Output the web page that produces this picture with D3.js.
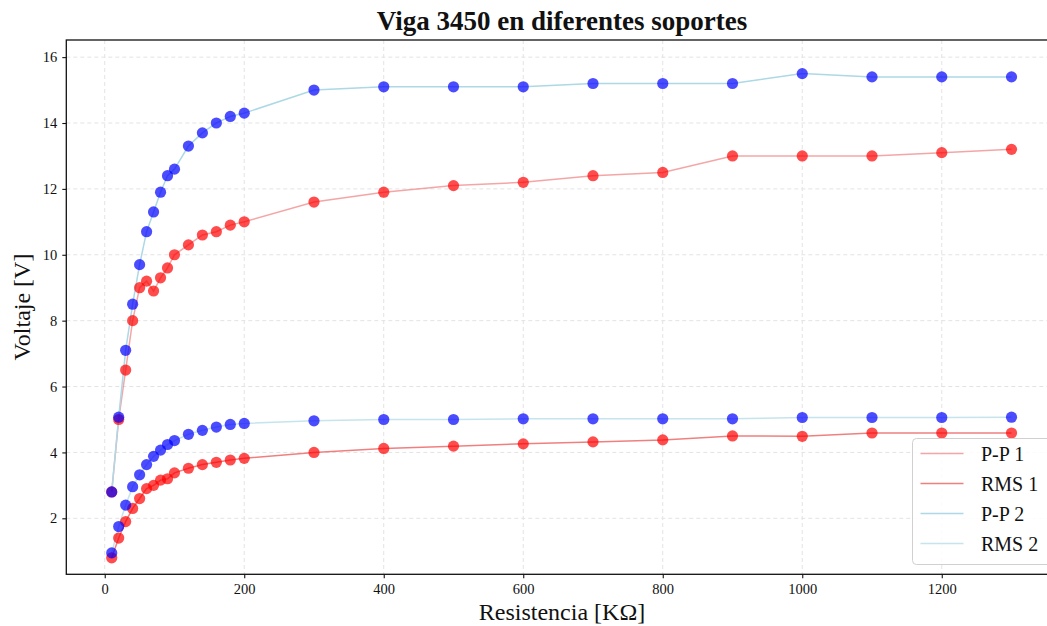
<!DOCTYPE html>
<html>
<head>
<meta charset="utf-8">
<script src="https://cdn.jsdelivr.net/npm/d3@7"></script>
<style>
  html, body { margin: 0; padding: 0; background: #fff; }
  svg { display: block; }
  text { font-family: "Liberation Serif", "DejaVu Serif", serif; fill: #111; }
</style>
</head>
<body>
<svg id="chart" width="1047" height="626"></svg>
<script>
// Resistance values (kΩ) shared by all four series
const resistance = [10, 20, 30, 40, 50, 60, 70, 80, 90, 100, 120, 140, 160, 180, 200,
                    300, 400, 500, 600, 700, 800, 900, 1000, 1100, 1200, 1300];

// Support 1 (red)
const pp1 = [2.8, 5.0, 6.5, 8.0, 9.0, 9.2, 8.9, 9.3, 9.6, 10.0, 10.3, 10.6, 10.7, 10.9, 11.0,
             11.6, 11.9, 12.1, 12.2, 12.4, 12.5, 13.0, 13.0, 13.0, 13.1, 13.2];
const rms1 = [0.8, 1.4, 1.9, 2.3, 2.6, 2.9, 3.0, 3.16, 3.2, 3.38, 3.52, 3.63, 3.7, 3.77, 3.82,
              4.0, 4.12, 4.19, 4.26, 4.32, 4.38, 4.5, 4.49, 4.59, 4.59, 4.59];

// Support 2 (blue)
const pp2 = [2.8, 5.07, 7.1, 8.5, 9.7, 10.7, 11.3, 11.9, 12.4, 12.6, 13.3, 13.7, 14.0, 14.2, 14.3,
             15.0, 15.1, 15.1, 15.1, 15.2, 15.2, 15.2, 15.5, 15.4, 15.4, 15.4];
const rms2 = [0.95, 1.75, 2.4, 2.96, 3.32, 3.63, 3.88, 4.07, 4.24, 4.36, 4.55, 4.67, 4.77, 4.85, 4.88,
              4.96, 5.0, 5.0, 5.02, 5.02, 5.02, 5.02, 5.06, 5.06, 5.06, 5.07];

const xTicks = [0, 200, 400, 600, 800, 1000, 1200];
const yTicks = [2, 4, 6, 8, 10, 12, 14, 16];

const seriesNames = ["P-P 1", "RMS 1", "P-P 2", "RMS 2"];

const svg = d3.select("#chart");

// Axes frame (right side runs past the visible canvas)
const frame = { left: 66.3, right: 1056.5, top: 40, bottom: 574.3 };

const x = d3.scaleLinear().domain([-55.1, 1364.5]).range([frame.left, frame.right]);
const y = d3.scaleLinear().domain([0.30, 16.52]).range([frame.bottom, frame.top]);

svg.append("rect").attr("width", 1047).attr("height", 626).attr("fill", "#fff");

// Dashed grid
const grid = svg.append("g").attr("stroke", "#e3e3e3").attr("stroke-width", 1)
  .attr("stroke-dasharray", "4,3").attr("fill", "none");
grid.selectAll(".gx").data(xTicks.concat([1400])).join("line")
  .attr("x1", d => x(d)).attr("x2", d => x(d))
  .attr("y1", frame.top).attr("y2", frame.bottom);
grid.selectAll(".gy").data(yTicks).join("line")
  .attr("x1", frame.left).attr("x2", frame.right)
  .attr("y1", d => y(d)).attr("y2", d => y(d));

// Series lines
const lineGen = d3.line().x(d => x(d[0])).y(d => y(d[1]));
const zipped = vals => resistance.map((r, i) => [r, vals[i]]);

const lineStyles = [
  { vals: pp1,  color: "#f08080", opacity: 0.7 },
  { vals: rms1, color: "#f08080", opacity: 1.0 },
  { vals: pp2,  color: "#add8e6", opacity: 1.0 },
  { vals: rms2, color: "#add8e6", opacity: 0.7 }
];

svg.append("g").selectAll("path").data(lineStyles).join("path")
  .attr("d", d => lineGen(zipped(d.vals)))
  .attr("fill", "none")
  .attr("stroke", d => d.color)
  .attr("stroke-opacity", d => d.opacity)
  .attr("stroke-width", 1.5);

// Markers: red for support 1, blue for support 2
const markerGroups = [
  { vals: pp1,  color: "#ff0000" },
  { vals: rms1, color: "#ff0000" },
  { vals: pp2,  color: "#0000ff" },
  { vals: rms2, color: "#0000ff" }
];
markerGroups.forEach(g => {
  svg.append("g").selectAll("circle").data(zipped(g.vals)).join("circle")
    .attr("cx", d => x(d[0])).attr("cy", d => y(d[1]))
    .attr("r", 5.6)
    .attr("fill", g.color).attr("fill-opacity", 0.7);
});

// Axes
const xAxis = d3.axisBottom(x).tickValues(xTicks).tickSize(4).tickPadding(5).tickFormat(d3.format("d"));
const yAxis = d3.axisLeft(y).tickValues(yTicks).tickSize(4).tickPadding(5).tickFormat(d3.format("d"));

const gx = svg.append("g").attr("transform", `translate(0,${frame.bottom})`).call(xAxis);
const gy = svg.append("g").attr("transform", `translate(${frame.left},0)`).call(yAxis);
[gx, gy].forEach(g => {
  g.select(".domain").remove();
  g.selectAll(".tick line").attr("stroke", "#111").attr("stroke-width", 1.1);
  g.selectAll(".tick text").style("font-family", "'Liberation Serif', serif")
    .style("font-size", "14.5px").attr("fill", "#111");
});

// Frame spines
svg.append("rect")
  .attr("x", frame.left).attr("y", frame.top)
  .attr("width", frame.right - frame.left).attr("height", frame.bottom - frame.top)
  .attr("fill", "none").attr("stroke", "#111").attr("stroke-width", 1.3);

// Title and axis labels
svg.append("text").attr("x", 562).attr("y", 30).attr("text-anchor", "middle")
  .style("font-size", "27px").style("font-weight", "bold")
  .text("Viga 3450 en diferentes soportes");

svg.append("text").attr("x", 562).attr("y", 620).attr("text-anchor", "middle")
  .style("font-size", "24px").text("Resistencia [KΩ]");

svg.append("text").attr("transform", "translate(30,307) rotate(-90)")
  .attr("text-anchor", "middle").style("font-size", "24px").text("Voltaje [V]");

// Legend
const legend = svg.append("g");
legend.append("rect").attr("x", 912.5).attr("y", 438.5).attr("width", 140).attr("height", 126)
  .attr("rx", 4).attr("fill", "#fff").attr("fill-opacity", 0.85)
  .attr("stroke", "#d0d0d0").attr("stroke-width", 1);
const rows = legend.selectAll(".row").data(lineStyles).join("g")
  .attr("transform", (d, i) => `translate(0,${453.5 + i * 30})`);
rows.append("line").attr("x1", 920.5).attr("x2", 963.5)
  .attr("stroke", d => d.color).attr("stroke-opacity", d => d.opacity).attr("stroke-width", 1.5);
rows.append("text").attr("x", 981).attr("y", 7)
  .style("font-size", "20px").text((d, i) => seriesNames[i]);
</script>
</body>
</html>
